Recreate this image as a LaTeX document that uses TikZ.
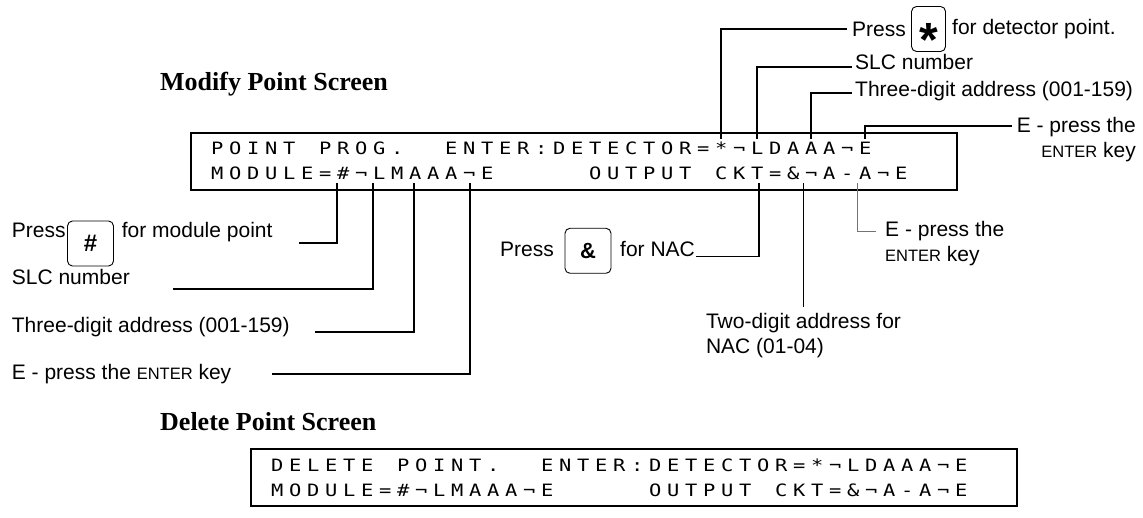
\documentclass[tikz,border=0pt]{standalone}
\usepackage{fontspec}
\usepackage{graphicx}
\setmainfont{Liberation Sans}
\newfontfamily\titlefont{Liberation Serif}
\newfontfamily\lcdfont{DejaVu Sans Mono}
\usetikzlibrary{positioning}
% one LCD cell per character, { } is an empty cell
\makeatletter
\newcommand\lcdspread[1]{\@tfor\lcdch:=#1\do{\makebox[18pt]{\scalebox{1.2}[1]{\lcdch}}}}
\makeatother
\newcommand\entertxt{{\fontsize{16.5}{18}\selectfont ENTER}}

\begin{document}
\begin{tikzpicture}[x=1pt,y=-1pt,
  lbl/.style={anchor=base west, inner sep=0pt, font=\fontsize{21}{25}\selectfont},
  lead/.style={line width=1.7pt}]
\tikzset{lcd/.style={anchor=base west, inner sep=0pt, font=\lcdfont\fontsize{17}{18}\selectfont}}
\tikzset{screen/.style={draw, line width=2.2pt, anchor=north west, inner sep=0pt, minimum width=766pt, minimum height=57pt}}
\tikzset{keycap/.style={draw, rounded corners=5pt, line width=0.9pt, minimum width=46pt, minimum height=45pt, inner sep=0pt, font=\fontsize{22}{22}\selectfont\bfseries}}
\tikzset{title/.style={anchor=base west, inner sep=0pt, font=\titlefont\bfseries\fontsize{26}{30}\selectfont}}
\tikzset{greylead/.style={line width=0.9pt, draw=black!55}}
\useasboundingbox (0,0) rectangle (1143,518);

% modify point screen
\node[title] (modtitle) at (160,91) {Modify Point Screen};
\node[screen] (modscr) at (190,132) {};
\node[lcd] (modrowA) at (208,155) {\lcdspread{POINT{ }PROG.{ }{ }ENTER:DETECTOR=*¬LDAAA¬E}};
\node[lcd] (modrowB) at (208,180) {\lcdspread{MODULE=\#¬LMAAA¬E{ }{ }{ }{ }{ }OUTPUT{ }CKT=\&¬A-A¬E}};

% tick points on the screen
\coordinate (tdet) at (721,139);
\coordinate (tslcA) at (757,139);
\coordinate (taddrA) at (811,139);
\coordinate (tentA) at (865,139);
\coordinate (tmod) at (337,183);
\coordinate (tslcB) at (373,183);
\coordinate (taddrB) at (414,183);
\coordinate (tentB) at (470,183);
\coordinate (tnac) at (759,183);
\coordinate (tnacad) at (803.5,183);
\coordinate (tentC) at (857,183);

% labels above
\node[lbl, anchor=west] (pressA) at (852,29) {Press};
\node[keycap, minimum width=34pt, right=5pt of pressA] (keystar) {\fontsize{48}{48}\selectfont\smash{\raisebox{-0.566em}{*}}};
\node[lbl, anchor=west, right=6pt of keystar] (detpt) {for detector point.};
\draw[lead] (tdet) |- ([xshift=-5pt]pressA.west);

\node[lbl] (slcA) at (855,70) {SLC number};
\coordinate (slcendA) at (852,67);
\draw[lead] (tslcA) |- (slcendA);

\node[lbl] (addrA) at (855,97) {Three-digit address (001-159)};
\coordinate (addrendA) at (852,93);
\draw[lead] (taddrA) |- (addrendA);

\node[lbl, anchor=north east, align=right] (entA) at (1136,117) {E - press the\\\entertxt{} key};
\coordinate (entendA) at (1012,126);
\draw[lead] (tentA) |- (entendA);

% labels below, left side
\node[lbl] (pressB) at (11.7,238) {Press};
\node[keycap] (keyhash) at (90.5,243.5) {\fontsize{24}{24}\selectfont\#};
\node[lbl] (modpt) at (121.7,238) {for module point};
\coordinate (modend) at (299,243);
\draw[lead] (tmod) |- (modend);

\node[lbl] (slcB) at (11.7,285) {SLC number};
\coordinate (slcendB) at (173,289);
\draw[lead] (tslcB) |- (slcendB);

\node[lbl] (addrB) at (11.7,333) {Three-digit address (001-159)};
\coordinate (addrendB) at (315,332);
\draw[lead] (taddrB) |- (addrendB);

\node[lbl] (entB) at (11.7,380) {E - press the \entertxt{} key};
\coordinate (entendB) at (272,374);
\draw[lead] (tentB) |- (entendB);

% labels below, right side
\node[lbl] (pressC) at (500,256.5) {Press};
\node[keycap] (keyamp) at (588,250.8) {\&};
\node[lbl] (nacA) at (620,256.5) {for NAC};
\draw[lead] (tnac) |- ([xshift=1pt]nacA.base east);

\node[lbl, anchor=north, align=left] (nacaddr) at (803.5,313) {Two-digit address for\\NAC (01-04)};
\draw[lead] (tnacad) -- ([yshift=6pt]nacaddr.north);

\node[lbl, anchor=north west, align=left] (entC) at (885,221) {E - press the\\\entertxt{} key};
\coordinate (entendC) at (876,231.7);
\draw[greylead] (tentC) |- (entendC);

% delete point screen
\node[title] (deltitle) at (160,430) {Delete Point Screen};
\node[screen] (delscr) at (250,448) {};
\node[lcd] (delrowA) at (268,471) {\lcdspread{DELETE{ }POINT.{ }{ }ENTER:DETECTOR=*¬LDAAA¬E}};
\node[lcd] (delrowB) at (268,496) {\lcdspread{MODULE=\#¬LMAAA¬E{ }{ }{ }{ }{ }OUTPUT{ }CKT=\&¬A-A¬E}};
\end{tikzpicture}
\end{document}
